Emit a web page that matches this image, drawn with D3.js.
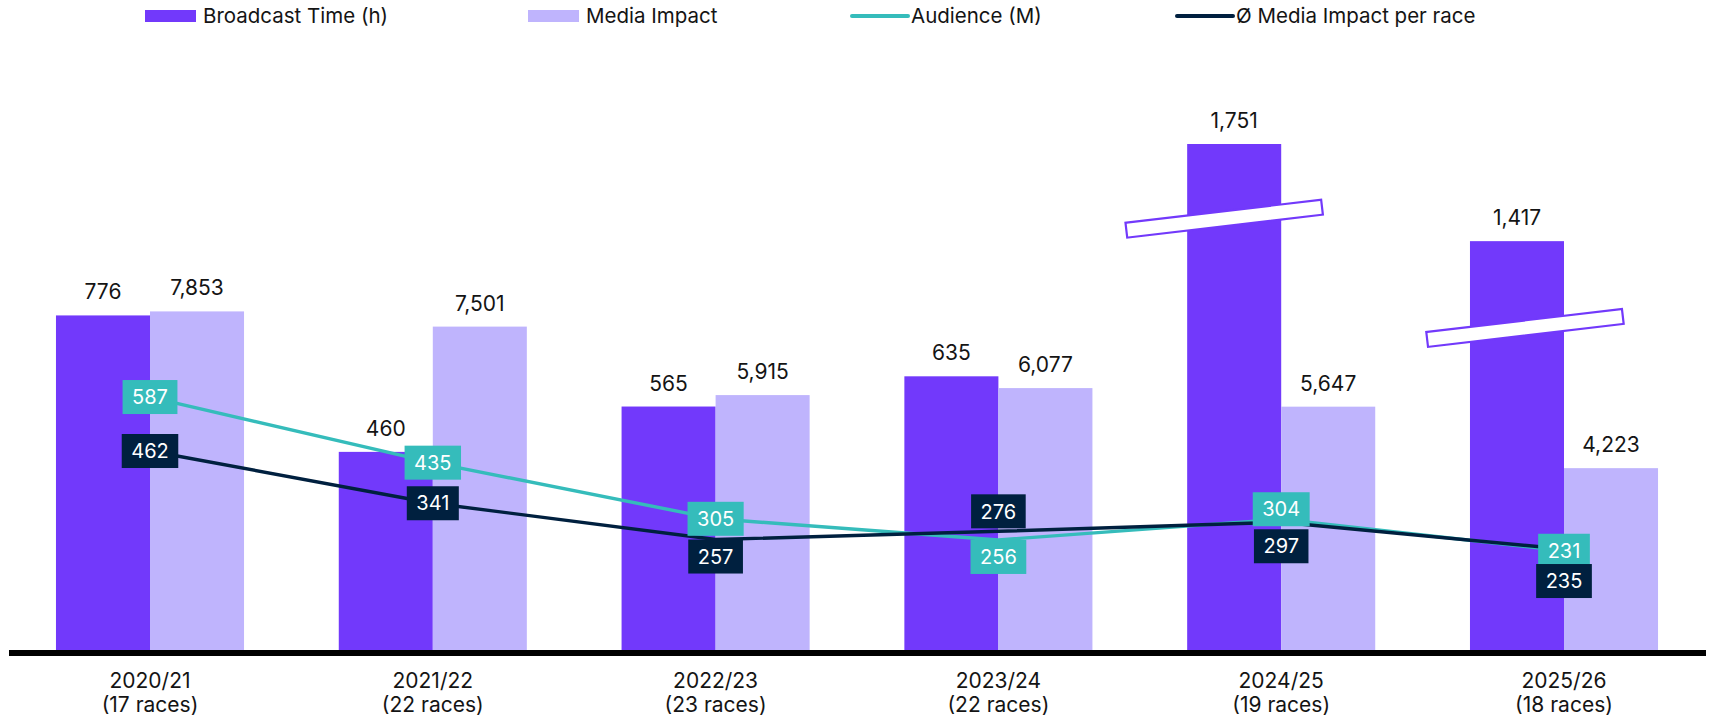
<!DOCTYPE html>
<html>
<head>
<meta charset="utf-8">
<script src="https://cdn.jsdelivr.net/npm/d3@7/dist/d3.min.js"></script>
<style>
  html, body { margin: 0; padding: 0; background: #fff; }
  svg { display: block; font-family: Inter, "Noto Sans", sans-serif; }
</style>
</head>
<body>
<svg id="chart" width="1709" height="719"></svg>
<script>
// ---------- data ----------
const categories = ["2020/21", "2021/22", "2022/23", "2023/24", "2024/25", "2025/26"];
const races = [17, 22, 23, 22, 19, 18];
const broadcastTime = [776, 460, 565, 635, 1751, 1417];
const mediaImpact = [7853, 7501, 5915, 6077, 5647, 4223];
const audience = [587, 435, 305, 256, 304, 231];
const avgImpact = [462, 341, 257, 276, 297, 235];
const legendLabels = ["Broadcast Time (h)", "Media Impact", "Audience (M)", "Ø Media Impact per race"];

// ---------- layout (axis break & label placement) ----------
const brokenBarShown = [null, null, null, null, 1173, 948]; // drawn height (axis units) of broken bars
const breakMarkAt = [null, null, null, null, 1000, 747];
const breakMarkDx = [0, 0, 0, 0, -10, 8];
const audLabelDy = [0, 0, 0, 17, -10, 0];
const avgLabelDy = [0, 0, 17, -20, 24, 32];

const colors = {
  broadcast: "#7239fb",
  media: "#bfb4fd",
  audience: "#35bcbb",
  avg: "#00203f",
  text: "#141414"
};

const svg = d3.select("#chart");
const fmt = d3.format(",");

const x = d3.scaleBand().domain(categories).range([8.6, 1705.4]).paddingInner(0.335).paddingOuter(0.1675);
const xSub = d3.scaleBand().domain(["b", "m"]).range([0, x.bandwidth()]);
const y = d3.scaleLinear().domain([0, 1000]).range([650.5, 218.7]);
const yMedia = d3.scaleLinear().domain([0, 10000]).range([650.5, 218.7]);

const rows = categories.map((c, i) => ({
  c, i, races: races[i], b: broadcastTime[i], m: mediaImpact[i],
  a: audience[i], v: avgImpact[i],
  bShown: brokenBarShown[i] == null ? broadcastTime[i] : brokenBarShown[i]
}));

// ---------- bars ----------
const g = svg.append("g");
g.selectAll("rect.b").data(rows).join("rect").attr("class", "b")
  .attr("x", d => x(d.c) + xSub("b"))
  .attr("width", xSub.bandwidth())
  .attr("y", d => y(d.bShown))
  .attr("height", d => y(0) - y(d.bShown))
  .attr("fill", colors.broadcast);
g.selectAll("rect.m").data(rows).join("rect").attr("class", "m")
  .attr("x", d => x(d.c) + xSub("m"))
  .attr("width", xSub.bandwidth())
  .attr("y", d => yMedia(d.m))
  .attr("height", d => yMedia(0) - yMedia(d.m))
  .attr("fill", colors.media);

// value labels
g.selectAll("text.bl").data(rows).join("text").attr("class", "bl")
  .attr("x", d => x(d.c) + xSub("b") + xSub.bandwidth() / 2)
  .attr("y", d => y(d.bShown) - 16)
  .attr("text-anchor", "middle").attr("font-size", 21).attr("fill", colors.text)
  .text(d => fmt(d.b));
g.selectAll("text.ml").data(rows).join("text").attr("class", "ml")
  .attr("x", d => x(d.c) + xSub("m") + xSub.bandwidth() / 2)
  .attr("y", d => yMedia(d.m) - 16)
  .attr("text-anchor", "middle").attr("font-size", 21).attr("fill", colors.text)
  .text(d => fmt(d.m));

// break markers
rows.filter(d => breakMarkAt[d.i] != null).forEach(d => {
  const cx = x(d.c) + xSub("b") + xSub.bandwidth() / 2 + breakMarkDx[d.i];
  const cy = y(breakMarkAt[d.i]);
  g.append("rect")
    .attr("x", -98.5).attr("y", -7.5).attr("width", 197).attr("height", 15)
    .attr("fill", "#fff").attr("stroke", colors.broadcast).attr("stroke-width", 2.2)
    .attr("transform", `translate(${cx},${cy}) rotate(-6.7)`);
});

// axis line
svg.append("rect").attr("x", 9).attr("y", 650).attr("width", 1697).attr("height", 6).attr("fill", "#000");

// x labels
const xl = svg.append("g");
rows.forEach(d => {
  const t = xl.append("text").attr("text-anchor", "middle").attr("font-size", 21).attr("fill", colors.text);
  t.append("tspan").attr("x", x(d.c) + x.bandwidth() / 2).attr("y", 688).text(d.c);
  t.append("tspan").attr("x", x(d.c) + x.bandwidth() / 2).attr("y", 712).text(`(${d.races} races)`);
});

// ---------- lines ----------
const cxOf = d => x(d.c) + x.bandwidth() / 2;
const lineA = d3.line().x(cxOf).y(d => y(d.a));
const lineV = d3.line().x(cxOf).y(d => y(d.v));
svg.append("path").datum(rows).attr("d", lineA).attr("fill", "none").attr("stroke", colors.audience).attr("stroke-width", 3.4);
svg.append("path").datum(rows).attr("d", lineV).attr("fill", "none").attr("stroke", colors.avg).attr("stroke-width", 3.4);

function boxLabel(cx, cy, txt, fill) {
  const gg = svg.append("g").attr("transform", `translate(${cx},${cy})`);
  const r = gg.append("rect").attr("fill", fill);
  const t = gg.append("text").attr("text-anchor", "middle").attr("dy", "0.36em")
    .attr("font-size", 20).attr("fill", "#fff").text(txt);
  const w = t.node().getComputedTextLength() + 19;
  r.attr("x", -w / 2).attr("y", -17).attr("width", w).attr("height", 34);
}
rows.forEach(d => boxLabel(cxOf(d), y(d.a) + audLabelDy[d.i], fmt(d.a), colors.audience));
rows.forEach(d => boxLabel(cxOf(d), y(d.v) + avgLabelDy[d.i], fmt(d.v), colors.avg));

// ---------- legend ----------
const legendX = [145, 528, 852, 1177];
const leg = svg.append("g");
legendLabels.forEach((lab, i) => {
  const lx = legendX[i];
  if (i < 2) {
    leg.append("rect").attr("x", lx).attr("y", 10).attr("width", 51).attr("height", 12)
      .attr("fill", i === 0 ? colors.broadcast : colors.media);
  } else {
    leg.append("line").attr("x1", lx).attr("x2", lx + 56).attr("y1", 16).attr("y2", 16)
      .attr("stroke", i === 2 ? colors.audience : colors.avg).attr("stroke-width", 4).attr("stroke-linecap", "round");
  }
  leg.append("text").attr("x", lx + (i < 2 ? 58 : 59)).attr("y", 23)
    .attr("font-size", 20.5).attr("fill", colors.text).text(lab);
});
</script>
</body>
</html>
